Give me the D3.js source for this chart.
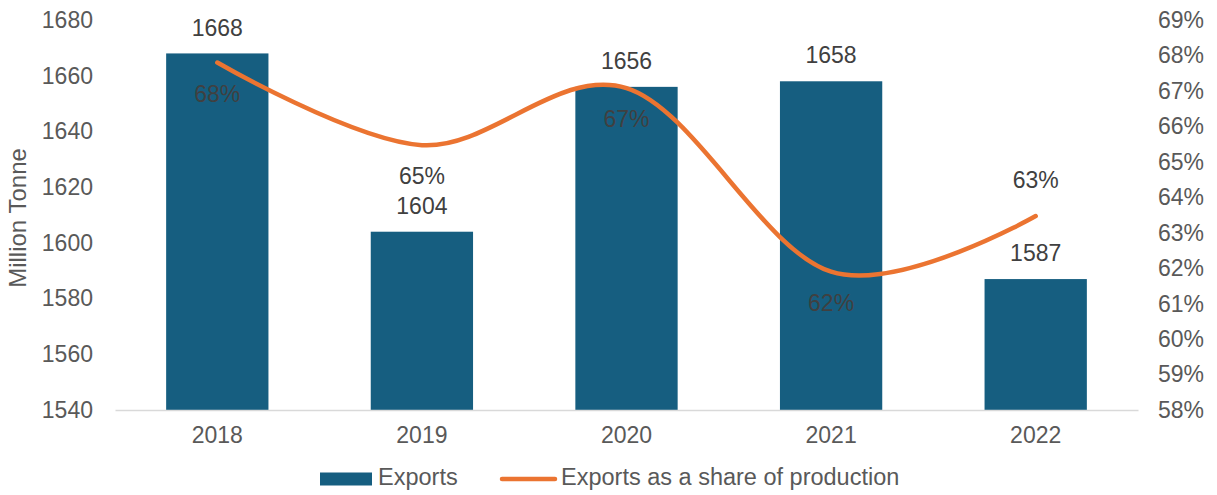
<!DOCTYPE html>
<html>
<head>
<meta charset="utf-8">
<script src="https://cdn.jsdelivr.net/npm/d3@7"></script>
<style>
  html, body { margin: 0; padding: 0; background: #fff; }
  svg { display: block; font-family: "Liberation Sans", Arial, sans-serif; }
</style>
</head>
<body>
<svg id="chart" width="1217" height="495"></svg>
<script>
// Exports (million tonnes) and exports as a share of production
const years = ["2018", "2019", "2020", "2021", "2022"];
const exportsMt = [1668, 1604, 1656, 1658, 1587];
const exportShare = [0.678, 0.6547, 0.6708, 0.619, 0.6347];
const leftTicks = [1540, 1560, 1580, 1600, 1620, 1640, 1660, 1680];
const rightTicks = [0.58, 0.59, 0.60, 0.61, 0.62, 0.63, 0.64, 0.65, 0.66, 0.67, 0.68, 0.69];
const seriesNames = ["Exports", "Exports as a share of production"];

const svg = d3.select("#chart");
const plot = { left: 115, right: 1138, top: 20, bottom: 410 };
const barColor = "#165E80";
const lineColor = "#EB7431";
const axisText = "#595959";
const labelText = "#404040";
const fontSize = 23;

const x = d3.scaleBand().domain(years).range([plot.left, plot.right])
  .paddingInner(0.5).paddingOuter(0.25);
const yL = d3.scaleLinear().domain([1540, 1680]).range([plot.bottom, plot.top]);
const yR = d3.scaleLinear().domain([0.58, 0.69]).range([plot.bottom, plot.top]);

// Left axis (tick labels only)
const leftAxis = d3.axisLeft(yL).tickValues(leftTicks).tickSize(0).tickPadding(0).tickFormat(d3.format("d"));
const gL = svg.append("g").attr("transform", `translate(93,0)`).call(leftAxis);
gL.select(".domain").remove();
gL.selectAll("text").attr("fill", axisText).style("font-size", fontSize + "px").attr("font-family", null);

// Right axis
const rightAxis = d3.axisRight(yR).tickValues(rightTicks).tickSize(0).tickPadding(0).tickFormat(d3.format(".0%"));
const gR = svg.append("g").attr("transform", `translate(1158,0)`).call(rightAxis);
gR.select(".domain").remove();
gR.selectAll("text").attr("fill", axisText).style("font-size", fontSize + "px").attr("font-family", null);

// Bars
svg.append("g").selectAll("rect").data(years).join("rect")
  .attr("x", d => x(d))
  .attr("width", x.bandwidth())
  .attr("y", (d, i) => yL(exportsMt[i]))
  .attr("height", (d, i) => plot.bottom - yL(exportsMt[i]))
  .attr("fill", barColor);

// Category axis
const bottomAxis = d3.axisBottom(x).tickSize(0).tickPadding(17);
const gB = svg.append("g").attr("transform", `translate(0,${plot.bottom})`).call(bottomAxis);
gB.select(".domain").attr("stroke", "#D9D9D9").attr("stroke-width", 1.5);
gB.selectAll("text").attr("fill", axisText).style("font-size", fontSize + "px").attr("font-family", null);

// Bar value labels
svg.append("g").selectAll("text").data(years).join("text")
  .attr("x", d => x(d) + x.bandwidth() / 2)
  .attr("y", (d, i) => yL(exportsMt[i]) - 24)
  .attr("text-anchor", "middle")
  .attr("dominant-baseline", "middle")
  .attr("fill", labelText)
  .style("font-size", fontSize + "px")
  .text((d, i) => exportsMt[i]);

// Smoothed share line
const line = d3.line()
  .x((d, i) => x(years[i]) + x.bandwidth() / 2)
  .y(d => yR(d))
  .curve(d3.curveCardinal.tension(0));
svg.append("path")
  .datum(exportShare)
  .attr("d", line)
  .attr("fill", "none")
  .attr("stroke", lineColor)
  .attr("stroke-width", 4.5)
  .attr("stroke-linecap", "round");

// Share labels: below the point, the final one above
svg.append("g").selectAll("text").data(exportShare).join("text")
  .attr("x", (d, i) => x(years[i]) + x.bandwidth() / 2)
  .attr("y", (d, i) => yR(d) + (i === exportShare.length - 1 ? -34 : 33))
  .attr("text-anchor", "middle")
  .attr("dominant-baseline", "middle")
  .attr("fill", labelText)
  .style("font-size", fontSize + "px")
  .text(d => d3.format(".0%")(d));

// Axis title
svg.append("text")
  .attr("transform", `translate(20,${(plot.top + plot.bottom) / 2 + 3}) rotate(-90)`)
  .attr("text-anchor", "middle")
  .attr("dominant-baseline", "middle")
  .attr("fill", axisText)
  .style("font-size", "24px")
  .text("Million Tonne");

// Legend
const legend = svg.append("g").attr("transform", "translate(0,479)");
legend.append("rect").attr("x", 320).attr("y", -6.5).attr("width", 52).attr("height", 13).attr("fill", barColor);
legend.append("text").attr("x", 378).attr("y", 0).attr("dominant-baseline", "middle")
  .attr("fill", axisText).style("font-size", "23.5px").text(seriesNames[0]);
legend.append("line").attr("x1", 502).attr("x2", 555).attr("y1", 0).attr("y2", 0)
  .attr("stroke", lineColor).attr("stroke-width", 4.5).attr("stroke-linecap", "round");
legend.append("text").attr("x", 561).attr("y", 0).attr("dominant-baseline", "middle")
  .attr("fill", axisText).style("font-size", "23.5px").text(seriesNames[1]);
</script>
</body>
</html>
